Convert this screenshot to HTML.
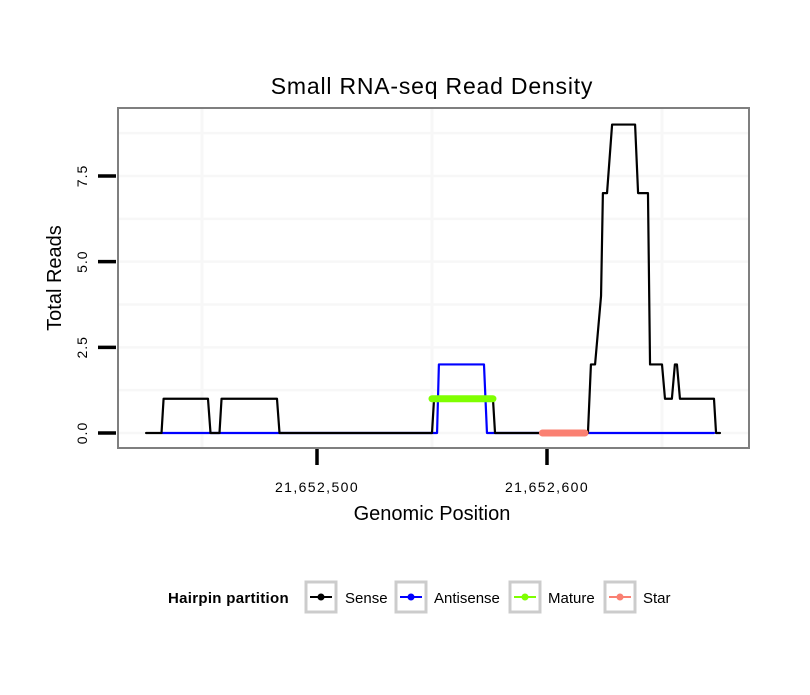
<!DOCTYPE html>
<html><head><meta charset="utf-8"><style>
body{margin:0;background:#fff;}
svg text{font-family:"Liberation Sans",sans-serif;}
</style></head><body>
<svg id="c" width="810" height="690" xmlns="http://www.w3.org/2000/svg">
<rect width="810" height="690" fill="#fff"/>
<text x="432" y="94" font-size="23" letter-spacing="0.8" text-anchor="middle">Small RNA-seq Read Density</text>
<rect x="118" y="108" width="631" height="340" fill="#fff"/>
<g id="grid"></g>
<g id="series"></g>
<rect x="118" y="108" width="631" height="340" fill="none" stroke="#7f7f7f" stroke-width="2"/>
<g id="axes"></g>
<text x="432" y="520" font-size="20" text-anchor="middle">Genomic Position</text>
<text transform="translate(61,278) rotate(-90)" font-size="20" text-anchor="middle">Total Reads</text>
<g>
<text x="168" y="603" font-size="15" font-weight="bold" letter-spacing="0.3">Hairpin partition</text>
<g><rect x="306" y="582" width="30" height="30" fill="#fff" stroke="#ccc" stroke-width="3"/><line x1="310" x2="332" y1="597" y2="597" stroke="#000" stroke-width="2"/><circle cx="321" cy="597" r="3.5" fill="#000"/><text x="345" y="603" font-size="15">Sense</text></g>
<g><rect x="396" y="582" width="30" height="30" fill="#fff" stroke="#ccc" stroke-width="3"/><line x1="400" x2="422" y1="597" y2="597" stroke="#00f" stroke-width="2"/><circle cx="411" cy="597" r="3.5" fill="#00f"/><text x="434" y="603" font-size="15">Antisense</text></g>
<g><rect x="510" y="582" width="30" height="30" fill="#fff" stroke="#ccc" stroke-width="3"/><line x1="514" x2="536" y1="597" y2="597" stroke="#7fff00" stroke-width="2"/><circle cx="525" cy="597" r="3.5" fill="#7fff00"/><text x="548" y="603" font-size="15">Mature</text></g>
<g><rect x="605" y="582" width="30" height="30" fill="#fff" stroke="#ccc" stroke-width="3"/><line x1="609" x2="631" y1="597" y2="597" stroke="#fa8072" stroke-width="2"/><circle cx="620" cy="597" r="3.5" fill="#fa8072"/><text x="643" y="603" font-size="15">Star</text></g>
</g>
</svg>
<script>
// positions are offsets from 21,652,000
const senseX=[425.7,432.4,433.3,452.6,453.7,457.6,458.5,482.6,483.7,550,550.9,576.5,577.4,617.8,619.1,620.9,623.5,624.3,626.1,628.3,638.3,639.6,643.9,644.8,650,651.3,654.3,655.6,656.5,657.8,672.6,673.5,675.2];
const senseY=[0,0,1,1,0,0,1,1,0,0,1,1,0,0,2,2,4,7,7,9,9,7,7,2,2,1,1,2,2,1,1,0,0];
const antiX=[432.6,552.2,553,572.6,573.9,672.6];
const antiY=[0,0,2,2,0,0];
const matureX=[550,576.5];
const matureY=[1,1];
const starX=[598,616.5];
const starY=[0,0];
const xTicks=[500,600];
const xTickLabels=["21,652,500","21,652,600"];
const xGrid=[450,550,650];
const yTicks=[0,2.5,5,7.5];
const yTickLabels=["0.0","2.5","5.0","7.5"];
const yMinor=[1.25,3.75,6.25,8.75];
const NS="http://www.w3.org/2000/svg";
function xs(p){return 317+(p-500)*2.3;}
function ys(v){return 433-v*34.27;}
function mk(tag,attrs,parent){const e=document.createElementNS(NS,tag);for(const k in attrs)e.setAttribute(k,attrs[k]);parent.appendChild(e);return e;}
const grid=document.getElementById('grid'),ser=document.getElementById('series'),ax=document.getElementById('axes');
xGrid.forEach(g=>{const l=mk('line',{x1:xs(g),x2:xs(g),y1:109,y2:447,stroke:'#f7f7f7','stroke-width':3},grid);

});
yMinor.concat(yTicks).forEach(v=>{const l=mk('line',{x1:119,x2:748,y1:ys(v),y2:ys(v),stroke:'#f7f7f7','stroke-width':2.5},grid);

});
function path(X,Y,color,w,name){const d=X.map((x,i)=>(i?'L':'M')+xs(x)+','+ys(Y[i])).join('');
const p=mk('path',{d:d,fill:'none',stroke:color,'stroke-width':w,'stroke-linejoin':'round','stroke-linecap':'round'},ser);

}
path(antiX,antiY,'#00f',2.2,'antisense-line');
path(senseX,senseY,'#000',2.2,'sense-line');
path(matureX,matureY,'#7fff00',7,'mature-line');
path(starX,starY,'#fa8072',7,'star-line');
xTicks.forEach((t,i)=>{const l=mk('line',{x1:xs(t),x2:xs(t),y1:449,y2:465,stroke:'#000','stroke-width':3.5},ax);


const tx=mk('text',{x:xs(t),y:492,'font-size':14,'letter-spacing':1.4,'text-anchor':'middle'},ax);tx.textContent=xTickLabels[i];

});
yTicks.forEach((t,i)=>{const l=mk('line',{x1:98,x2:116,y1:ys(t),y2:ys(t),stroke:'#000','stroke-width':3.5},ax);


const tx=mk('text',{transform:'translate(87,'+ys(t)+') rotate(-90)','font-size':14,'letter-spacing':1,'text-anchor':'middle'},ax);tx.textContent=yTickLabels[i];

});
</script>
</body></html>
